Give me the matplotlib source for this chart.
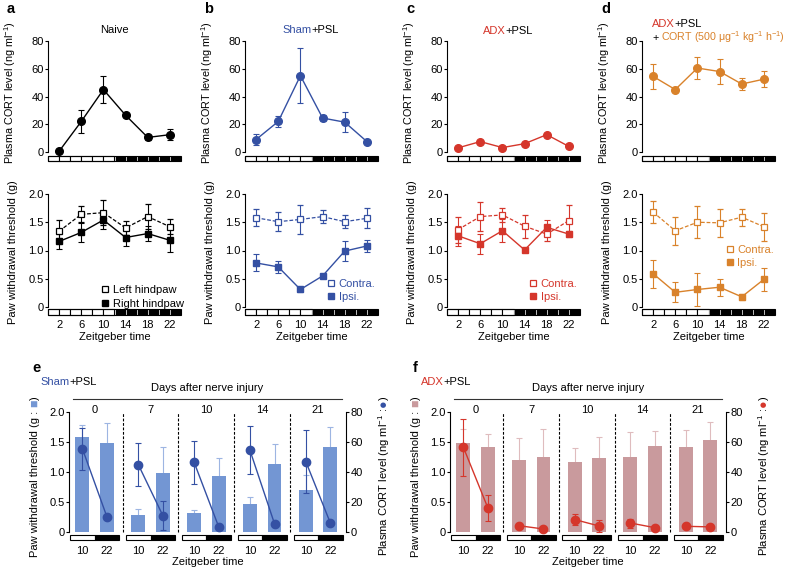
import numpy as np
import matplotlib
matplotlib.use("Agg")
import matplotlib.pyplot as plt
from matplotlib.patches import Rectangle
from matplotlib.lines import Line2D

plt.rcParams['font.family'] = ['Liberation Sans', 'DejaVu Sans']
plt.rcParams['mathtext.default'] = 'regular'
plt.rcParams['font.size'] = 8
plt.rcParams['axes.linewidth'] = 0.8

# ---------------- data ----------------
zt = [2, 6, 10, 14, 18, 22]
strip_phase = ['L'] * 6 + ['D'] * 6      # 2-h light/dark bins, ZT0-24
zt_ticks = [2, 6, 10, 14, 18, 22]

naive_cort = [0.5, 22, 45, 26.5, 10.5, 12.5]
naive_cort_err = [0.5, 8.5, 10, 1, 1.5, 4]
naive_left = [1.34, 1.64, 1.67, 1.40, 1.60, 1.42]
naive_left_err = [0.20, 0.14, 0.22, 0.12, 0.22, 0.13]
naive_right = [1.16, 1.32, 1.54, 1.23, 1.30, 1.18]
naive_right_err = [0.14, 0.17, 0.16, 0.15, 0.13, 0.20]

sham_cort = [9, 22, 55, 24.5, 21.5, 7.5]
sham_cort_err = [4, 4, 20, 2, 7, 1]
sham_contra = [1.58, 1.51, 1.55, 1.60, 1.51, 1.57]
sham_contra_err = [0.15, 0.17, 0.25, 0.12, 0.12, 0.18]
sham_ipsi = [0.78, 0.71, 0.31, 0.55, 0.99, 1.08]
sham_ipsi_err = [0.15, 0.10, 0.04, 0.02, 0.18, 0.11]

adx_cort = [3, 7.5, 3.2, 6, 12.5, 4]
adx_cort_err = [1, 1, 1, 1, 1, 1]
adx_contra = [1.37, 1.60, 1.63, 1.43, 1.29, 1.53]
adx_contra_err = [0.23, 0.25, 0.13, 0.20, 0.12, 0.28]
adx_ipsi = [1.26, 1.12, 1.35, 1.01, 1.41, 1.29]
adx_ipsi_err = [0.18, 0.18, 0.20, 0.03, 0.13, 0.05]

rep_cort = [54.5, 45, 60.5, 58, 49, 52.5]
rep_cort_err = [9, 2, 8, 9, 4, 6]
rep_contra = [1.68, 1.35, 1.50, 1.49, 1.59, 1.42]
rep_contra_err = [0.20, 0.25, 0.28, 0.25, 0.15, 0.25]
rep_ipsi = [0.59, 0.26, 0.31, 0.35, 0.18, 0.49]
rep_ipsi_err = [0.25, 0.18, 0.30, 0.15, 0.05, 0.20]

days = [0, 7, 10, 14, 21]
day_zt = ['10', '22']

# e: Sham+PSL  (paw in g, CORT in ng/ml)
e_paw10 = [1.59, 0.28, 0.31, 0.46, 0.70]
e_paw10_err = [0.19, 0.11, 0.05, 0.13, 0.25]
e_paw22 = [1.49, 0.98, 0.94, 1.14, 1.41]
e_paw22_err = [0.32, 0.43, 0.30, 0.32, 0.34]
e_cort10 = [55.5, 45, 46.5, 54.5, 47]
e_cort10_err = [14, 14.5, 14.5, 16, 21]
e_cort22 = [10, 11, 3.5, 5.5, 6]
e_cort22_err = [1, 9.5, 0.5, 0.5, 0.5]

# f: ADX+PSL
f_paw10 = [1.48, 1.20, 1.16, 1.245, 1.41]
f_paw10_err = [0.235, 0.36, 0.24, 0.43, 0.29]
f_paw22 = [1.41, 1.25, 1.23, 1.44, 1.54]
f_paw22_err = [0.22, 0.46, 0.35, 0.25, 0.29]
f_cort10 = [56.5, 4.2, 8.3, 6, 3.8]
f_cort10_err = [19, 0.5, 3.5, 3, 0.5]
f_cort22 = [16.1, 2, 4, 2.9, 3.4]
f_cort22_err = [8.6, 0.5, 4, 0.5, 0.5]

BLUE = '#3450a3'
BLUE_BAR = '#7396d3'
BLUE_ERR = '#9db5e2'
RED = '#d5362b'
RED_BAR = '#c99a9d'
RED_ERR = '#dfbcbe'
ORANGE = '#d9822b'

W, H = 788, 571
fig = plt.figure(figsize=(W / 100, H / 100), dpi=100)
fig.patch.set_facecolor('white')
renderer = fig.canvas.get_renderer()


def add_ax(left, top, right, bottom):
    return fig.add_axes([left / W, 1 - bottom / H, (right - left) / W, (bottom - top) / H])


def ftext(x, y, s, **kw):
    kw.setdefault('va', 'center')
    return fig.text(x / W, 1 - y / H, s, **kw)


def colored(x, y, parts, size=8):
    # parts: (text, colour, gap after in px); y is the baseline
    cur = x
    for s, c, gap in parts:
        t = ftext(cur, y, s, color=c, ha='left', va='baseline', fontsize=size)
        cur = t.get_window_extent(renderer).x1 + gap


def zt_strip(ax, y0, h):
    edges = np.linspace(0, 24, len(strip_phase) + 1)
    for l, r, ph in zip(edges[:-1], edges[1:], strip_phase):
        if ph == 'L':
            ax.add_patch(Rectangle((l, y0), r - l, h, fc='white', ec='black', lw=0.8, clip_on=False))
        else:
            ax.add_patch(Rectangle((l, y0), r - l, h, fc='black', ec='white', lw=0.4, clip_on=False))
    ax.add_patch(Rectangle((0, y0), 24, h, fill=False, ec='black', lw=0.8, clip_on=False))


def day_strip(ax, centers, y0, h):
    for c in centers:
        ax.add_patch(Rectangle((c - 0.44, y0), 0.44, h, fc='white', ec='black', lw=0.8, clip_on=False))
        ax.add_patch(Rectangle((c, y0), 0.44, h, fc='black', ec='black', lw=0.8, clip_on=False))


def style_left(ax, top, ticks, labels):
    for s in ['top', 'right', 'bottom']:
        ax.spines[s].set_visible(False)
    ax.spines['left'].set_bounds(0, top)
    ax.set_yticks(ticks)
    ax.set_yticklabels(labels)
    ax.tick_params(axis='y', length=2.2, width=0.8, pad=1, labelsize=8)
    ax.tick_params(axis='x', length=0, pad=1.5, labelsize=8)


cols = [48, 245, 447, 642]
panels = [
    ('a', naive_cort, naive_cort_err, naive_left, naive_left_err, naive_right, naive_right_err,
     'black', ['Left hindpaw', 'Right hindpaw'], (1.02, 0.075)),
    ('b', sham_cort, sham_cort_err, sham_contra, sham_contra_err, sham_ipsi, sham_ipsi_err,
     BLUE, ['Contra.', 'Ipsi.'], (0.98, 0.125)),
    ('c', adx_cort, adx_cort_err, adx_contra, adx_contra_err, adx_ipsi, adx_ipsi_err,
     RED, ['Contra.', 'Ipsi.'], (0.98, 0.125)),
    ('d', rep_cort, rep_cort_err, rep_contra, rep_contra_err, rep_ipsi, rep_ipsi_err,
     ORANGE, ['Contra.', 'Ipsi.'], (0.99, 0.385)),
]

for left, (letter, cort, cort_err, op, op_err, fl, fl_err, col, leg_lab, leg_pos) in zip(cols, panels):
    # plasma CORT
    ax1 = add_ax(left, 34.06, left + 133, 164.5)
    ax1.errorbar(zt, cort, yerr=cort_err, fmt='-o', color=col, ms=5.5, lw=1,
                 elinewidth=0.8, capsize=2, capthick=0.8, clip_on=False)
    ax1.set_xlim(0, 24)
    ax1.set_ylim(-9, 85)
    style_left(ax1, 80, [0, 20, 40, 60, 80], ['0', '20', '40', '60', '80'])
    ax1.set_xticks([])
    zt_strip(ax1, -6.8, 4.0)
    ax1.set_ylabel('Plasma CORT level (ng ml$^{-1}$)', fontsize=7.8)
    ax1.yaxis.set_label_coords(-0.226, 0.555)

    # paw withdrawal
    ax2 = add_ax(left, 188.35, left + 133, 318.3)
    ax2.errorbar(zt, op, yerr=op_err, fmt='s', ls=(0, (3, 1.5)), color=col, mfc='white',
                 mec=col, mew=0.9, ms=5, lw=0.9, elinewidth=0.8, capsize=2, capthick=0.8)
    ax2.errorbar(zt, fl, yerr=fl_err, fmt='-s', color=col, ms=5, lw=1,
                 elinewidth=0.8, capsize=2, capthick=0.8)
    ax2.set_xlim(0, 24)
    ax2.set_ylim(-0.2, 2.1)
    style_left(ax2, 2.0, [0, 0.5, 1.0, 1.5, 2.0], ['0', '0.5', '1.0', '1.5', '2.0'])
    ax2.set_xticks(zt_ticks)
    ax2.set_xticklabels([str(t) for t in zt_ticks])
    zt_strip(ax2, -0.135, 0.095)
    ax2.set_xlabel('Zeitgeber time', fontsize=8, labelpad=1)
    ax2.set_ylabel('Paw withdrawal threshold (g)', fontsize=8)
    ax2.yaxis.set_label_coords(-0.226, 0.51)

    handles = [Line2D([], [], marker='s', ls='none', mfc='white', mec=col, mew=0.9, ms=5),
               Line2D([], [], marker='s', ls='none', mfc=col, mec=col, ms=5)]
    ax2.legend(handles, leg_lab, loc='lower right', bbox_to_anchor=leg_pos, frameon=False,
               handlelength=0.7, handletextpad=0.3, labelspacing=0.3, borderpad=0,
               borderaxespad=0, fontsize=8, labelcolor=col)

    ftext(left - 41, 9, letter, fontsize=10.5, fontweight='bold', ha='left')

# panel titles
ftext(114.5, 30, 'Naive', ha='center')
colored(282, 33, [('Sham', BLUE, 0), ('+PSL', 'black', 0)])
colored(483, 34, [('ADX', RED, 0), ('+PSL', 'black', 0)])
colored(652, 27, [('ADX', RED, 0), ('+PSL', 'black', 0)])
colored(652, 41, [('+', 'black', 2.5),
                  ('CORT (500 \u03bcg$^{-1}$ kg$^{-1}$ h$^{-1}$)', ORANGE, 0)], size=7.7)


def day_panel(left, right, paw10, paw10_err, paw22, paw22_err, c10, c10_err, c22, c22_err,
              dot_col, bar_col, err_col, letter, name_parts):
    ax = add_ax(left, 406, right, 544)
    gx = np.arange(len(days))
    x10, x22 = gx - 0.22, gx + 0.22
    ax.errorbar(x10, paw10, yerr=paw10_err, fmt='none', ecolor=err_col, elinewidth=0.8,
                capsize=2, capthick=0.8, zorder=1)
    ax.errorbar(x22, paw22, yerr=paw22_err, fmt='none', ecolor=err_col, elinewidth=0.8,
                capsize=2, capthick=0.8, zorder=1)
    ax.bar(x10, paw10, width=0.25, color=bar_col, zorder=2)
    ax.bar(x22, paw22, width=0.25, color=bar_col, zorder=2)
    ax.vlines(gx[:-1] + 0.5, 0, 2.0, colors='black', linestyles=(0, (2.5, 1.5)), lw=0.8)
    ax.set_xlim(-0.46, 4.5)
    ax.set_ylim(-0.2, 2.1)
    style_left(ax, 2.0, [0, 0.5, 1.0, 1.5, 2.0], ['0', '0.5', '1.0', '1.5', '2.0'])
    ticks = np.ravel(np.column_stack([x10, x22]))
    ax.set_xticks(ticks)
    ax.set_xticklabels(day_zt * len(days))
    day_strip(ax, gx, -0.135, 0.085)
    ax.set_xlabel('Zeitgeber time', fontsize=8, labelpad=1)
    for g, d in zip(gx, days):
        ax.text(g, 2.04, str(d), ha='center', va='center', fontsize=8)
    ax.text(0.5, 1.13, 'Days after nerve injury', transform=ax.transAxes,
            ha='center', va='center', fontsize=8)
    ax.plot([0.014, 0.986], [1.051, 1.051], transform=ax.transAxes, clip_on=False,
            color='#333333', lw=0.8)

    lab = ax.set_ylabel('Paw withdrawal threshold (g : ', fontsize=8)
    ax.yaxis.set_label_coords(-0.105, 0.45)
    sq = ax.annotate('\u25a0', xy=(0.5, 1), xycoords=lab, rotation=90, ha='center',
                     va='bottom', color=bar_col, fontsize=9, annotation_clip=False)
    ax.annotate(')', xy=(0.5, 1), xycoords=sq, rotation=90, ha='center', va='bottom',
                fontsize=8, annotation_clip=False)

    tw = ax.twinx()
    for i in range(len(days)):
        tw.errorbar([x10[i], x22[i]], [c10[i], c22[i]], yerr=[c10_err[i], c22_err[i]],
                    fmt='-o', color=dot_col, ms=6, lw=1, elinewidth=0.8, capsize=2,
                    capthick=0.8)
    tw.set_ylim(-8, 84)
    for s in ['top', 'left', 'bottom']:
        tw.spines[s].set_visible(False)
    tw.spines['right'].set_bounds(0, 80)
    tw.set_yticks([0, 20, 40, 60, 80])
    tw.tick_params(axis='y', length=2.2, width=0.8, pad=1, labelsize=8)
    rl = tw.set_ylabel('Plasma CORT level (ng ml$^{-1}$ : ', fontsize=8)
    tw.yaxis.set_label_coords(1.11, 0.45)
    dot = tw.annotate('\u25cf', xy=(0.5, 1), xycoords=rl, rotation=90, ha='center',
                      va='bottom', color=dot_col, fontsize=9, annotation_clip=False)
    tw.annotate(')', xy=(0.5, 1), xycoords=dot, rotation=90, ha='center', va='bottom',
                fontsize=8, annotation_clip=False)

    ftext(left - 37, 368, letter, fontsize=10.5, fontweight='bold', ha='left')
    colored(left - 29, 385, name_parts)


day_panel(69, 346, e_paw10, e_paw10_err, e_paw22, e_paw22_err,
          e_cort10, e_cort10_err, e_cort22, e_cort22_err,
          BLUE, BLUE_BAR, BLUE_ERR, 'e', [('Sham', BLUE, 0), ('+PSL', 'black', 0)])
day_panel(450, 726, f_paw10, f_paw10_err, f_paw22, f_paw22_err,
          f_cort10, f_cort10_err, f_cort22, f_cort22_err,
          RED, RED_BAR, RED_ERR, 'f', [('ADX', RED, 0), ('+PSL', 'black', 0)])

fig.savefig('out.png', dpi=100)
